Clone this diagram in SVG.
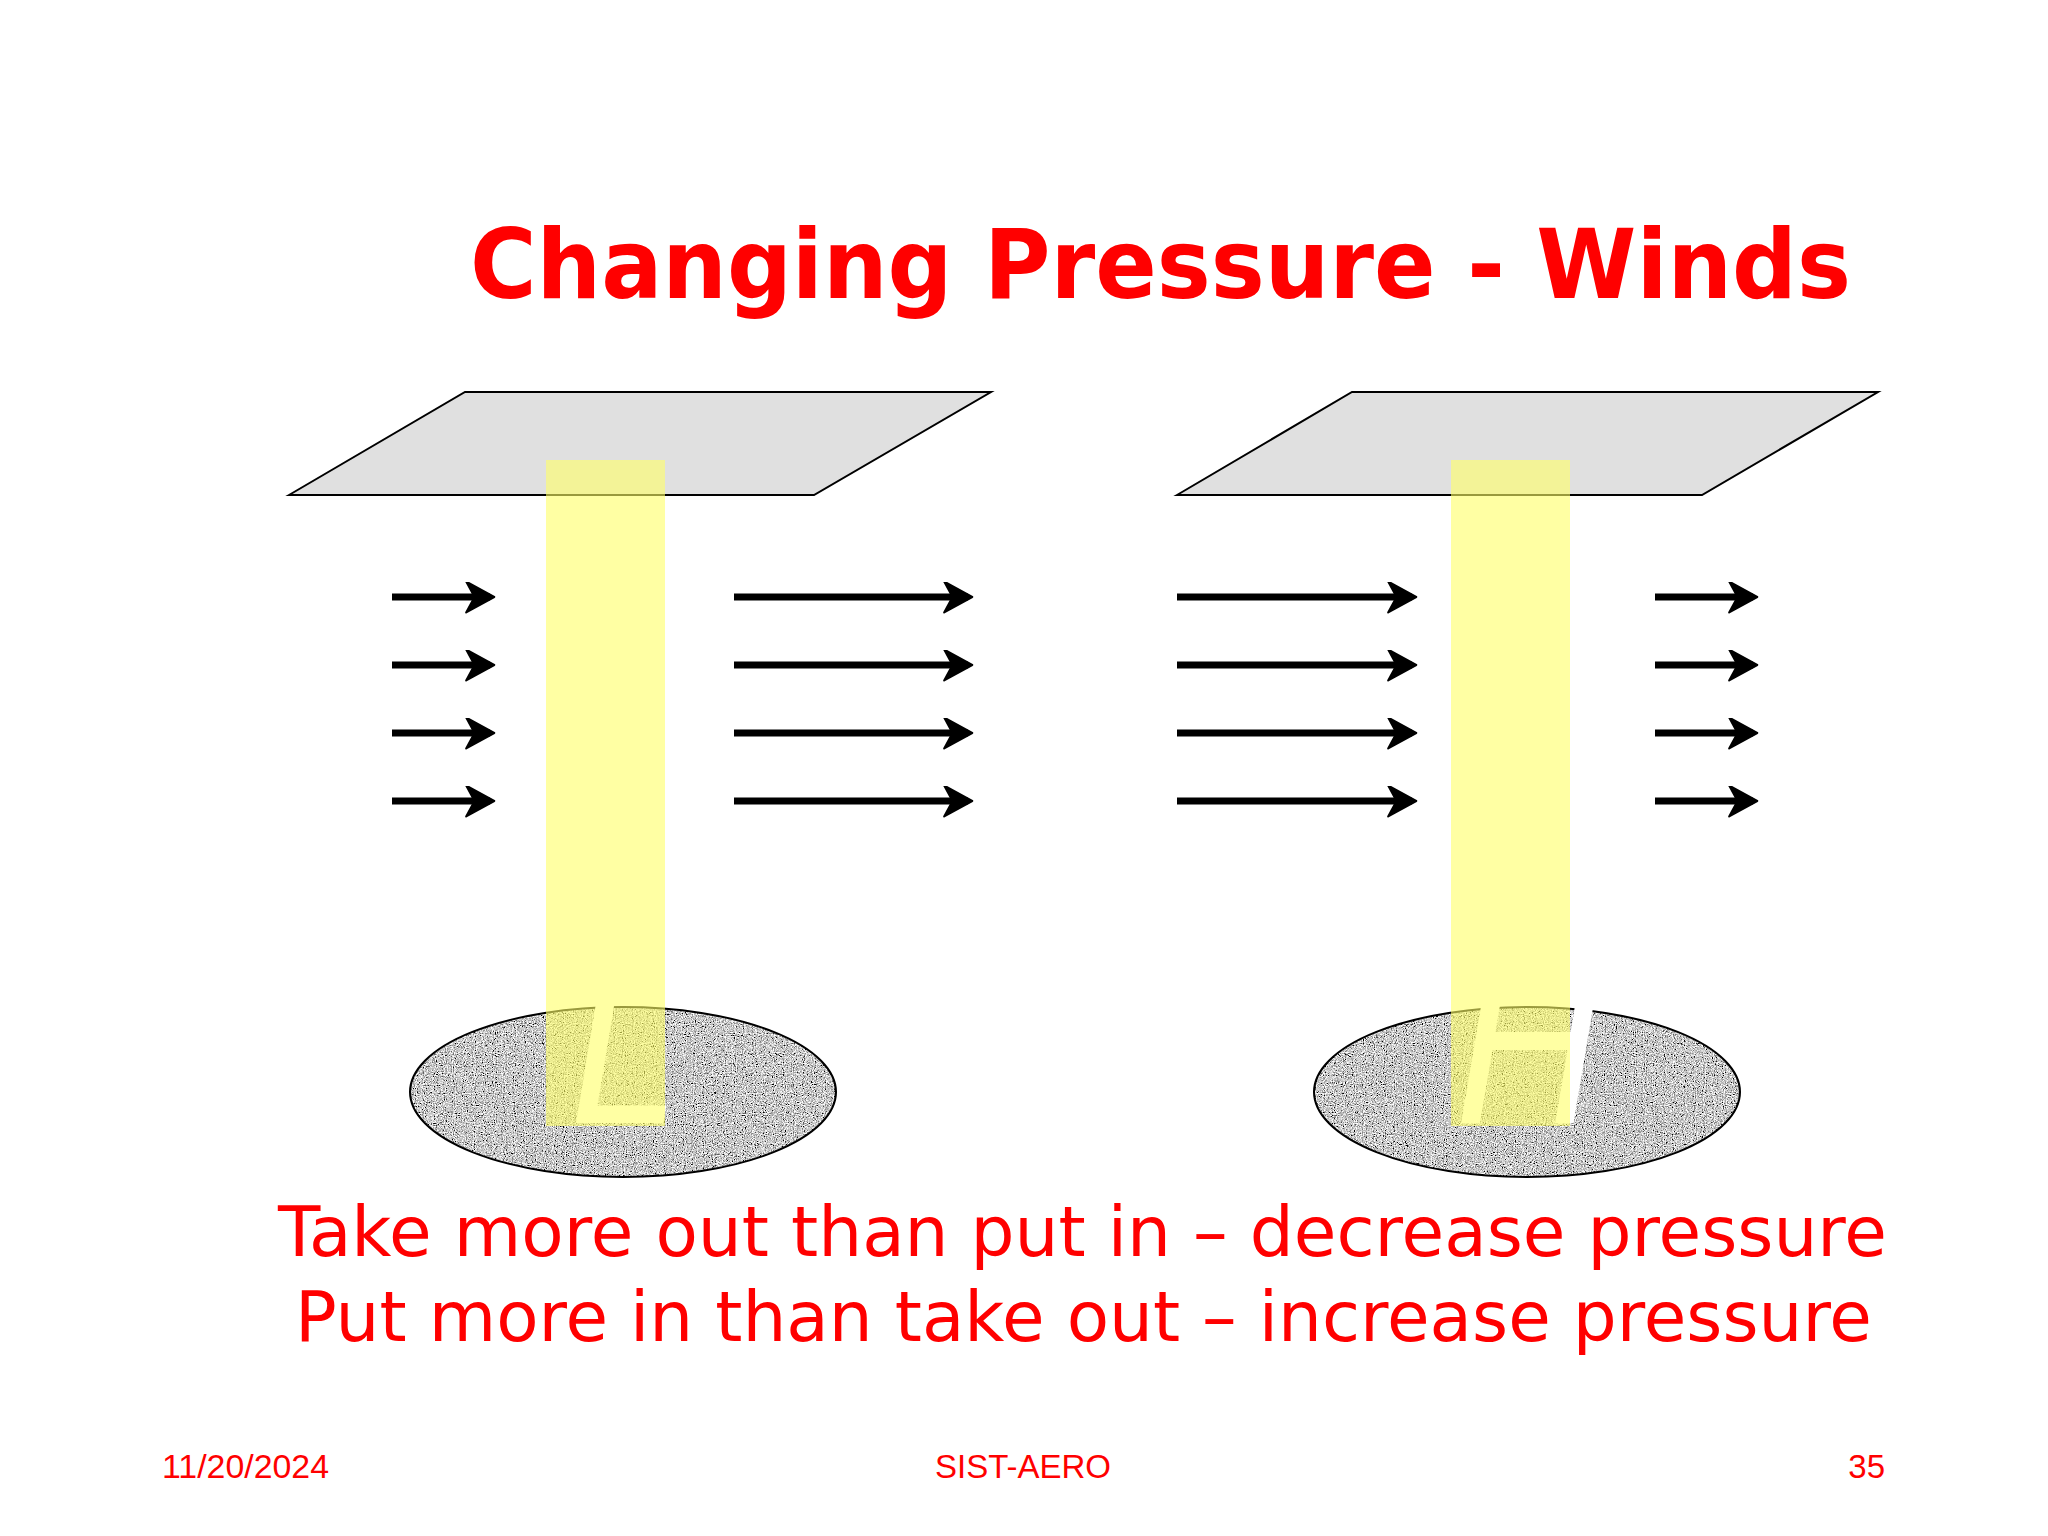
<svg xmlns="http://www.w3.org/2000/svg" width="2048" height="1536" viewBox="0 0 2048 1536">
<defs>
<style>
.plane{fill:#e0e0e0;stroke:#000;stroke-width:2}
.col{fill:#ffff66;opacity:0.6}
.arr{stroke:#000;stroke-width:7;fill:none;marker-end:url(#ah)}
.red{fill:#ff0000;font-family:"DejaVu Sans",Verdana,sans-serif}
.foot{fill:#ff0000;font-family:"Liberation Sans",Arial,sans-serif;font-size:33px}
.big{fill:#fff;font-family:"Liberation Sans",Arial,sans-serif;font-style:italic;font-size:230px}
</style>
<marker id="ah" markerWidth="5" markerHeight="5" refX="3.6" refY="2.2" orient="auto" markerUnits="strokeWidth">
<path d="M0.2,0 L4.2,2.2 L0.2,4.4 L1.4,2.2 Z" fill="#000" stroke="#000" stroke-width="0.3" stroke-linejoin="round"/>
</marker>
<filter id="noise" x="0" y="0" width="100%" height="100%">
<feTurbulence type="fractalNoise" baseFrequency="0.9" numOctaves="2" seed="3"/>
<feColorMatrix type="matrix" values="0.33 0.33 0.33 0 0  0.33 0.33 0.33 0 0  0.33 0.33 0.33 0 0  0 0 0 0 1"/>
<feComponentTransfer><feFuncR type="linear" slope="4" intercept="-1.4"/><feFuncG type="linear" slope="4" intercept="-1.4"/><feFuncB type="linear" slope="4" intercept="-1.4"/></feComponentTransfer>
</filter>
<clipPath id="e1"><ellipse cx="623" cy="1092" rx="213" ry="85"/></clipPath>
<clipPath id="e2"><ellipse cx="1527" cy="1092" rx="213" ry="85"/></clipPath>
</defs>
<rect width="2048" height="1536" fill="#fff"/>
<text class="red" x="470" y="298" font-size="96" font-weight="bold" textLength="1381" lengthAdjust="spacingAndGlyphs">Changing Pressure - Winds</text>
<g id="left-low">
<polygon class="plane" points="289,495 465,392 991,392 814,495"/>
<g clip-path="url(#e1)"><rect x="400" y="1000" width="450" height="190" filter="url(#noise)"/></g>
<ellipse cx="623" cy="1092" rx="213" ry="85" fill="none" stroke="#000" stroke-width="2"/>
<text class="big" x="570" y="1123" textLength="110" lengthAdjust="spacingAndGlyphs">L</text>
<rect class="col" x="546" y="460" width="119" height="666"/>
</g>
<g id="right-high">
<polygon class="plane" points="1177,495 1352,392 1878,392 1702,495"/>
<g clip-path="url(#e2)"><rect x="1300" y="1000" width="450" height="190" filter="url(#noise)"/></g>
<ellipse cx="1527" cy="1092" rx="213" ry="85" fill="none" stroke="#000" stroke-width="2"/>
<text class="big" x="1455" y="1123" textLength="145" lengthAdjust="spacingAndGlyphs">H</text>
<rect class="col" x="1451" y="460" width="119" height="666"/>
</g>
<g id="connectors">
<line class="arr" x1="392" y1="597" x2="490" y2="597"/>
<line class="arr" x1="392" y1="665" x2="490" y2="665"/>
<line class="arr" x1="392" y1="733" x2="490" y2="733"/>
<line class="arr" x1="392" y1="801" x2="490" y2="801"/>
<line class="arr" x1="734" y1="597" x2="968" y2="597"/>
<line class="arr" x1="734" y1="665" x2="968" y2="665"/>
<line class="arr" x1="734" y1="733" x2="968" y2="733"/>
<line class="arr" x1="734" y1="801" x2="968" y2="801"/>
<line class="arr" x1="1177" y1="597" x2="1412" y2="597"/>
<line class="arr" x1="1177" y1="665" x2="1412" y2="665"/>
<line class="arr" x1="1177" y1="733" x2="1412" y2="733"/>
<line class="arr" x1="1177" y1="801" x2="1412" y2="801"/>
<line class="arr" x1="1655" y1="597" x2="1753" y2="597"/>
<line class="arr" x1="1655" y1="665" x2="1753" y2="665"/>
<line class="arr" x1="1655" y1="733" x2="1753" y2="733"/>
<line class="arr" x1="1655" y1="801" x2="1753" y2="801"/>
</g>
<text class="red" x="278" y="1256" font-size="70" textLength="1609" lengthAdjust="spacingAndGlyphs">Take more out than put in – decrease pressure</text>
<text class="red" x="295" y="1341" font-size="70" textLength="1577" lengthAdjust="spacingAndGlyphs">Put more in than take out – increase pressure</text>
<text class="foot" x="162" y="1478" textLength="167" lengthAdjust="spacingAndGlyphs">11/20/2024</text>
<text class="foot" x="1023" y="1478" text-anchor="middle">SIST-AERO</text>
<text class="foot" x="1885" y="1478" text-anchor="end">35</text>
</svg>
